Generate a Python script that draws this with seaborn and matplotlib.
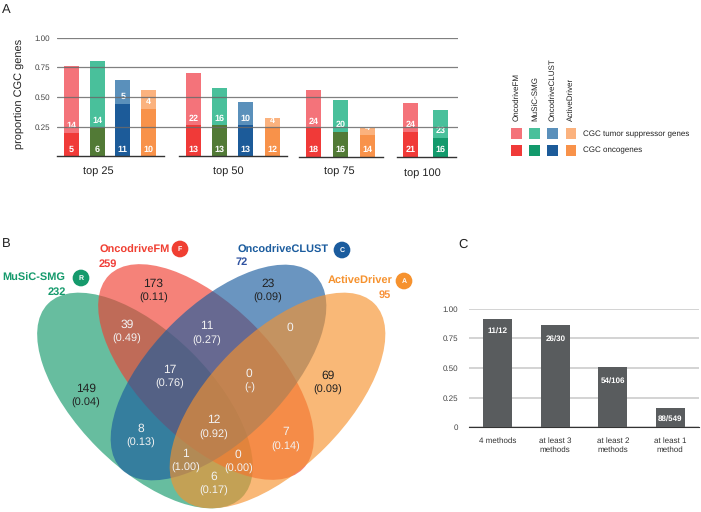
import matplotlib
matplotlib.use("Agg")
import matplotlib.pyplot as plt
from matplotlib.patches import Ellipse, Rectangle
import seaborn as sns
import pandas as pd

sns.set_style("white")
plt.rcParams["font.family"] = ["Liberation Sans", "DejaVu Sans"]
plt.rcParams["text.hinting"] = "no_hinting"
plt.rcParams["text.hinting_factor"] = 1

W, H = 701, 512

# panel A
methods = ["OncodriveFM", "MuSiC-SMG", "OncodriveCLUST", "ActiveDriver"]
groups = ["top 25", "top 50", "top 75", "top 100"]
group_sizes = [25, 50, 75, 100]
group_methods = [
    ["OncodriveFM", "MuSiC-SMG", "OncodriveCLUST", "ActiveDriver"],
    ["OncodriveFM", "MuSiC-SMG", "OncodriveCLUST", "ActiveDriver"],
    ["OncodriveFM", "MuSiC-SMG", "ActiveDriver"],
    ["OncodriveFM", "MuSiC-SMG"],
]
oncogenes = [[5, 6, 11, 10], [13, 13, 13, 12], [18, 16, 14], [21, 16]]
suppressors = [[14, 14, 5, 4], [22, 16, 10, 4], [24, 20, 4], [24, 23]]
y_ticks_a = [0.25, 0.50, 0.75, 1.00]
y_tick_labels_a = ["0.25", "0.50", "0.75", "1.00"]

dark = {"OncodriveFM": "#f03a38", "MuSiC-SMG": "#139a6c", "OncodriveCLUST": "#1c5b99", "ActiveDriver": "#f8924a"}
light = {"OncodriveFM": "#f4737a", "MuSiC-SMG": "#49c09b", "OncodriveCLUST": "#5a90bb", "ActiveDriver": "#fbb27e"}
olive = "#527a36"

# panel B
venn_names = ["MuSiC-SMG", "OncodriveFM", "OncodriveCLUST", "ActiveDriver"]
venn_totals = ["232", "259", "72", "95"]
venn_letters = ["R", "F", "C", "A"]
venn_counts = ["173", "23", "39", "11", "0", "149", "17", "0", "69", "12", "8", "7", "1", "0", "6"]
venn_ratios = ["(0.11)", "(0.09)", "(0.49)", "(0.27)", "", "(0.04)", "(0.76)", "(-)", "(0.09)", "(0.92)",
               "(0.13)", "(0.14)", "(1.00)", "(0.00)", "(0.17)"]

# panel C
c_labels = ["4 methods", "at least 3\nmethods", "at least 2\nmethods", "at least 1\nmethod"]
c_hits = [11, 26, 54, 88]
c_totals = [12, 30, 106, 549]
y_ticks_c = [0, 0.25, 0.50, 0.75, 1.00]
y_tick_labels_c = ["0", "0.25", "0.50", "0.75", "1.00"]


def px_axes(x0, y0, x1, y1, **kw):
    # y0 is the top edge, in image pixels
    return fig.add_axes([x0 / W, 1 - y1 / H, (x1 - x0) / W, (y1 - y0) / H], **kw)


fig = plt.figure(figsize=(W / 100, H / 100), dpi=100)

# A: one axes per group, because the groups are spaced unevenly
spans = [(57, 164, 71.5, 25.7), (179, 287, 193.5, 26.2), (299, 383, 313.5, 27), (397, 456, 410.5, 30)]
base_y = [156.3, 156.3, 157, 157]
bar_w = 15
for g, name in enumerate(groups):
    x0, x1, c0, step = spans[g]
    ax = px_axes(x0, 37.7, x1, base_y[g])
    n = group_sizes[g]
    df = pd.DataFrame({
        "method": group_methods[g],
        "onc": [v / n for v in oncogenes[g]],
        "tot": [(a + b) / n for a, b in zip(oncogenes[g], suppressors[g])],
    })
    sns.barplot(df, x="method", y="tot", hue="method", palette=[light[m] for m in df["method"]],
                width=bar_w / step, legend=False, ax=ax, saturation=1, linewidth=0)
    colors = [dark[m] for m in df["method"]]
    if g < 3:
        colors = [olive if m == "MuSiC-SMG" else dark[m] for m in df["method"]]
    sns.barplot(df, x="method", y="onc", hue="method", palette=colors,
                width=bar_w / step, legend=False, ax=ax, saturation=1, linewidth=0)
    ax.set_xlim((x0 - c0) / step, (x1 - c0) / step)
    ax.set_ylim(0, 1)
    ax.patch.set_alpha(0)
    ax.set_xticks([])
    ax.set_yticks([])
    ax.set_xlabel("")
    ax.set_ylabel("")
    sns.despine(ax=ax, left=True)
    ax.spines["bottom"].set_color("#333333")
    ax.spines["bottom"].set_linewidth(1)
    for i in range(len(df)):
        ax.text(i, 0.06, str(oncogenes[g][i]), color="white", ha="center", va="center",
                fontsize=6.5, fontweight="bold", zorder=6)
        ax.text(i, df["onc"][i] + 0.06, str(suppressors[g][i]), color="white", ha="center", va="center",
                fontsize=6.5, fontweight="bold", zorder=6)
    label_x = [98, 228.7, 339.3, 422.7][g]
    label_y = [170.7, 170.7, 171, 173][g]
    fig.text(label_x / W, 1 - label_y / H, name, ha="center", va="center", fontsize=8, color="#222222")

# grid sits over the bars
grid_ax = px_axes(57, 37.7, 458, 156.3, zorder=5)
grid_ax.patch.set_alpha(0)
grid_ax.set_ylim(0, 1)
grid_ax.set_xticks([])
grid_ax.set_yticks(y_ticks_a, y_tick_labels_a, fontsize=6, color="#444444")
grid_ax.tick_params(axis="y", length=0, pad=5)
grid_ax.grid(axis="y", color="#6a6a6a", lw=0.9, alpha=0.85)
sns.despine(ax=grid_ax, left=True, bottom=True)
fig.text(19.5 / W, 1 - 93.5 / H, "proportion CGC genes", rotation=90, ha="center", va="center",
         fontsize=7.8, color="#222222")

# everything drawn in image pixels goes here
over = fig.add_axes([0, 0, 1, 1], zorder=1)
over.set_xlim(0, W)
over.set_ylim(H, 0)
over.axis("off")

# legend of A
leg_x = [511, 529.3, 547.3, 565.7]
for i, m in enumerate(methods):
    over.add_patch(Rectangle((leg_x[i], 128.3), 10.7, 10.7, color=light[m], lw=0))
    over.add_patch(Rectangle((leg_x[i], 145), 10.7, 10.7, color=dark[m], lw=0))
    over.text(leg_x[i] + 5.5, 121, m, rotation=90, ha="center", va="bottom", fontsize=5.9, color="#222222")
over.text(582.7, 134, "CGC tumor suppressor genes", va="center", fontsize=5.9, color="#222222")
over.text(582.7, 150, "CGC oncogenes", va="center", fontsize=5.9, color="#222222")

# B: venn, green and red lean one way, blue and orange the other
venn_colors = ["#159a6c", "#f03f32", "#1b5c9e", "#f6922e"]
venn_shape = [(145, 400.5, 45), (206, 372, 45), (218.5, 372.5, 135), (277.5, 400.5, 135)]
for i in range(4):
    cx, cy, ang = venn_shape[i]
    over.add_patch(Ellipse((cx, cy), 2 * 137, 2 * 67, angle=ang, facecolor=venn_colors[i], alpha=0.65, lw=0))

name_pos = [(65.7, 278), (170, 249.7), (328.3, 250.3), (393, 280.7)]
total_pos = [(65.7, 291.7, "right"), (98.3, 264, "left"), (236, 262.3, "left"), (391, 294.7, "right")]
logo_pos = [(81, 278), (180, 249), (342, 250), (404, 281)]
total_colors = ["#159a6c", "#f03f3a", "#2f52a0", "#f8923c"]
for i in range(4):
    x, y = name_pos[i]
    over.text(x, y, venn_names[i], color=venn_colors[i], fontsize=8.1, fontweight="bold", ha="right", va="center")
    x, y, ha = total_pos[i]
    over.text(x, y, venn_totals[i], color=total_colors[i], fontsize=8, fontweight="bold", ha=ha, va="center")
    over.add_patch(Ellipse(logo_pos[i], 16.7, 16.7, color=venn_colors[i], lw=0))
    over.text(logo_pos[i][0], logo_pos[i][1], venn_letters[i], color="white", fontsize=5, fontweight="bold",
              ha="center", va="center")

region_pos = [(153.3, 290.3), (267.7, 291), (127, 331.7), (206.7, 333.3), (289.5, 334.3), (85.7, 395.7),
              (169.3, 377), (249.3, 380.7), (328, 382.3), (213.3, 427.3), (140.7, 436), (285.7, 439.3),
              (185.3, 460.7), (238.3, 462), (213.7, 484)]
region_dark = {"173", "23", "149", "69"}
for i in range(len(venn_counts)):
    x, y = region_pos[i]
    col = "#222222" if venn_counts[i] in region_dark else "#f2f2f2"
    over.text(x, y - 7, venn_counts[i], color=col, fontsize=8.5, ha="center", va="center")
    if venn_ratios[i]:
        over.text(x, y + 7.3, venn_ratios[i], color=col, fontsize=8, ha="center", va="center")

over.text(2, 9.5, "A", fontsize=9.5, va="center", color="#222222")
over.text(2.3, 244, "B", fontsize=9.5, va="center", color="#222222")
over.text(458, 244.3, "C", fontsize=9.5, va="center", color="#222222")

# C
ax_c = px_axes(469, 308.7, 699, 427.3)
df_c = pd.DataFrame({"label": c_labels, "ratio": [a / b for a, b in zip(c_hits, c_totals)]})
sns.barplot(df_c, x="label", y="ratio", color="#595c5e", saturation=1, width=0.5, ax=ax_c, zorder=3, linewidth=0)
ax_c.set_ylim(0, 1)
ax_c.set_xlim(-0.5, 3.5)
ax_c.set_yticks(y_ticks_c, y_tick_labels_c, fontsize=6, color="#444444")
ax_c.set_xticks(range(4), c_labels, fontsize=6, color="#333333", linespacing=1.3)
ax_c.tick_params(axis="both", length=0)
ax_c.tick_params(axis="y", pad=8)
ax_c.tick_params(axis="x", pad=7)
ax_c.set_xlabel("")
ax_c.set_ylabel("")
ax_c.set_axisbelow(True)
ax_c.grid(axis="y", color="#cccccc", lw=1.2)
sns.despine(ax=ax_c, left=True)
ax_c.spines["bottom"].set_color("#333333")
ax_c.patch.set_alpha(0)
label_drop = [0.1, 0.12, 0.115, 0.085]
for i in range(4):
    ax_c.text(i, df_c["ratio"][i] - label_drop[i], f"{c_hits[i]}/{c_totals[i]}", color="white", ha="center",
              va="center", fontsize=6, fontweight="bold", zorder=5)

fig.savefig("out.png", dpi=100)
